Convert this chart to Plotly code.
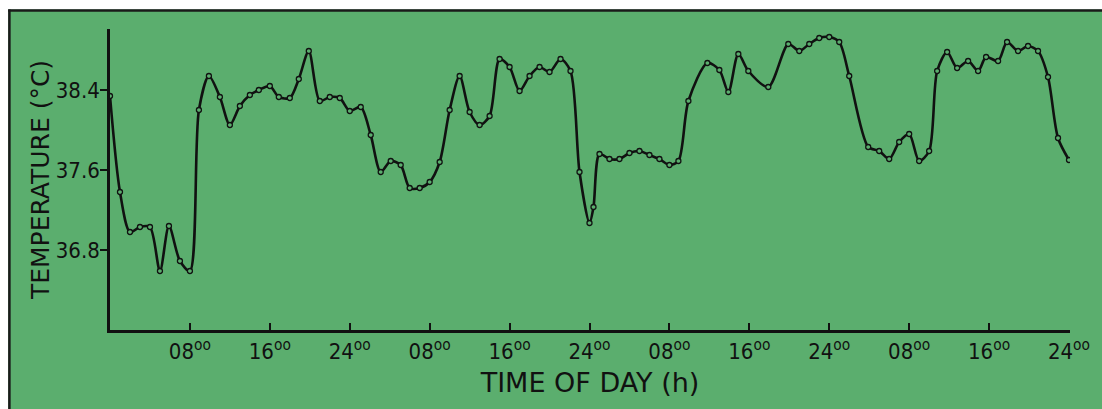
import plotly.graph_objects as go

# ---- data ----
hours = [0, 1, 2, 3, 4, 5, 5.9, 7, 8, 8.9, 9.9, 11, 12, 13, 14, 14.9, 16, 16.9, 18, 18.9,
         19.9, 21, 22, 23, 24, 25.1, 26.1, 27.1, 28.1, 29.1, 30, 31, 32, 33, 34, 35, 36, 37,
         38, 39, 40, 41, 42, 43, 44, 45.1, 46.1, 47, 48, 48.4, 49, 50, 51, 52, 53, 54, 55,
         56, 56.9, 57.9, 59.8, 61, 61.9, 62.9, 63.9, 65.9, 67.9, 69, 70, 71, 72, 73, 74,
         75.9, 77, 78, 79, 80, 81, 82, 82.8, 83.8, 84.8, 85.9, 86.9, 87.7, 88.9, 89.8, 90.9,
         91.9, 92.9, 93.9, 94.9, 96]
temperature = [38.34, 37.38, 36.98, 37.03, 37.03, 36.59, 37.04, 36.69, 36.59, 38.20, 38.54,
               38.33, 38.05, 38.24, 38.35, 38.40, 38.44, 38.33, 38.32, 38.51, 38.79, 38.29,
               38.33, 38.32, 38.19, 38.23, 37.95, 37.58, 37.69, 37.65, 37.42, 37.42, 37.48,
               37.68, 38.20, 38.54, 38.18, 38.05, 38.14, 38.71, 38.63, 38.39, 38.54, 38.63,
               38.58, 38.71, 38.59, 37.58, 37.07, 37.23, 37.76, 37.71, 37.71, 37.77, 37.79,
               37.75, 37.71, 37.65, 37.69, 38.29, 38.67, 38.60, 38.38, 38.76, 38.59, 38.43,
               38.86, 38.79, 38.86, 38.92, 38.93, 38.88, 38.54, 37.83, 37.79, 37.71, 37.88,
               37.96, 37.69, 37.79, 38.59, 38.78, 38.62, 38.69, 38.59, 38.73, 38.69, 38.88,
               38.79, 38.84, 38.79, 38.53, 37.92, 37.70]

x_tick_vals = [8, 16, 24, 32, 40, 48, 56, 64, 72, 80, 88, 96]
x_tick_text = ["08<sup>oo</sup>", "16<sup>oo</sup>", "24<sup>oo</sup>"] * 4
y_tick_vals = [36.8, 37.6, 38.4]
y_tick_text = ["36.8", "37.6", "38.4"]

GREEN = "#5bae6e"
FONT = "DejaVu Sans Condensed, sans-serif"
TITLE_FONT = "DejaVu Sans, sans-serif"

fig = go.Figure()
fig.add_trace(go.Scatter(
    x=hours, y=temperature, mode="lines+markers",
    line=dict(color="#111111", width=2.6, shape="spline", smoothing=0.8),
    marker=dict(symbol="circle", size=5, color=GREEN, line=dict(color="#111111", width=1.3)),
    hoverinfo="x+y", showlegend=False,
))

W, H = 1102, 409
L, R, T, B = 110, 30, 29, 79
pw, ph = W - L - R, H - T - B

def px_x(p):
    return (p - L) / pw

def px_y(p):
    return (H - B - p) / ph

shapes = [
    dict(type="rect", xref="paper", yref="paper", x0=px_x(-5), x1=px_x(W + 5),
         y0=px_y(9.5), y1=px_y(-5), fillcolor="white", line=dict(width=0), layer="above"),
    dict(type="rect", xref="paper", yref="paper", x0=px_x(-5), x1=px_x(8),
         y0=px_y(H + 5), y1=px_y(-5), fillcolor="white", line=dict(width=0), layer="above"),
    dict(type="line", xref="paper", yref="paper", x0=px_x(8), x1=px_x(W + 5),
         y0=px_y(10.5), y1=px_y(10.5), line=dict(color="#1a1a1a", width=2.5), layer="above"),
    dict(type="line", xref="paper", yref="paper", x0=px_x(9.2), x1=px_x(9.2),
         y0=px_y(9.5), y1=px_y(H + 5), line=dict(color="#1a1a1a", width=2.5), layer="above"),
]

fig.update_layout(
    width=W, height=H,
    margin=dict(l=L, r=R, t=T, b=B, pad=0),
    paper_bgcolor=GREEN, plot_bgcolor=GREEN,
    font=dict(family=FONT, color="#111111", size=22),
    shapes=shapes,
    xaxis=dict(
        range=[0, 96.1], showgrid=False, zeroline=False,
        showline=True, linecolor="#111111", linewidth=2.5,
        ticks="inside", ticklen=7, tickwidth=2, tickcolor="#111111",
        tickvals=x_tick_vals, ticktext=x_tick_text,
        tickfont=dict(family=FONT, size=22),
        title=dict(text="TIME OF DAY (h)", font=dict(family=TITLE_FONT, size=27), standoff=10),
    ),
    yaxis=dict(
        range=[36.0, 39.01], showgrid=False, zeroline=False,
        showline=True, linecolor="#111111", linewidth=2.5,
        ticks="outside", ticklen=7, tickwidth=2, tickcolor="#111111",
        tickvals=y_tick_vals, ticktext=y_tick_text,
        tickfont=dict(family=FONT, size=22), ticklabelstandoff=-4,
        title=dict(text="TEMPERATURE (°C)", font=dict(family=TITLE_FONT, size=25), standoff=0),
    ),
)

fig.write_html("out.html", config={"displayModeBar": False},
               post_script="document.body.style.margin='0';")
